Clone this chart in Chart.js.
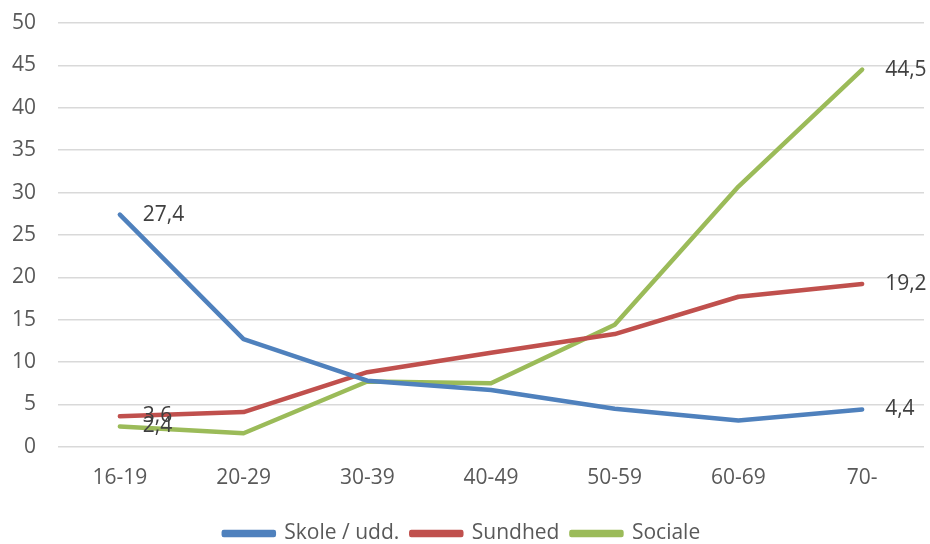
<!DOCTYPE html>
<html>
<head>
<meta charset="utf-8">
<script src="https://cdn.jsdelivr.net/npm/chart.js@4.4.1/dist/chart.umd.min.js"></script>
<style>
  html, body { margin: 0; padding: 0; background: #fff; }
  #wrap { width: 930px; height: 544px; }
</style>
</head>
<body>
<div id="wrap"><canvas id="line-chart"></canvas></div>
<script>
var ageGroups = ['16-19', '20-29', '30-39', '40-49', '50-59', '60-69', '70-'];
var skole = [27.4, 12.7, 7.8, 6.7, 4.5, 3.1, 4.4];
var sundhed = [3.6, 4.1, 8.8, 11.1, 13.3, 17.7, 19.2];
var sociale = [2.4, 1.6, 7.7, 7.5, 14.4, 30.7, 44.5];
var yTicks = [0, 5, 10, 15, 20, 25, 30, 35, 40, 45, 50];

var fontFamily = '"Open Sans", "Liberation Sans", sans-serif';

// data labels at first and last point
var endLabels = {
    id: 'endLabels',
    afterDatasetsDraw: function (chart) {
        var ctx = chart.ctx;
        ctx.save();
        ctx.font = '21px ' + fontFamily;
        ctx.fillStyle = '#404040';
        ctx.textBaseline = 'middle';
        ctx.textAlign = 'left';
        chart.data.datasets.forEach(function (ds, i) {
            var meta = chart.getDatasetMeta(i);
            [0, ds.data.length - 1].forEach(function (idx) {
                var p = meta.data[idx];
                var txt = ds.data[idx].toFixed(1).replace('.', ',');
                ctx.fillText(txt, p.x + 23, p.y);
            });
        });
        ctx.restore();
    }
};

var chart = document.getElementById('line-chart');

let lineChart = new Chart(chart, {
    type: 'line',
    data: {
        labels: ageGroups,
        datasets: [{
            label: 'Skole / udd.',
            data: skole,
            borderColor: '#4F81BD',
            backgroundColor: '#4F81BD',
            borderWidth: 4.5,
            pointRadius: 0,
            tension: 0,
            borderCapStyle: 'round',
            borderJoinStyle: 'round'
        }, {
            label: 'Sundhed',
            data: sundhed,
            borderColor: '#C0504D',
            backgroundColor: '#C0504D',
            borderWidth: 4.5,
            pointRadius: 0,
            tension: 0,
            borderCapStyle: 'round',
            borderJoinStyle: 'round'
        }, {
            label: 'Sociale',
            data: sociale,
            borderColor: '#9BBB59',
            backgroundColor: '#9BBB59',
            borderWidth: 4.5,
            pointRadius: 0,
            tension: 0,
            borderCapStyle: 'round',
            borderJoinStyle: 'round'
        }]
    },
    plugins: [endLabels],
    options: {
        responsive: true,
        maintainAspectRatio: false,
        animation: false,
        layout: {
            padding: { top: 23, right: 6, left: 0, bottom: -10 }
        },
        plugins: {
            tooltip: { enabled: false },
            legend: {
                position: 'bottom',
                labels: {
                    boxWidth: 50,
                    boxHeight: 3,
                    padding: 12,
                    color: '#595959',
                    font: { family: fontFamily, size: 21 }
                }
            }
        },
        scales: {
            x: {
                offset: true,
                afterFit: function (axis) { axis.height += 1; },
                grid: { display: false, drawTicks: false },
                border: { display: false },
                ticks: {
                    color: '#595959',
                    padding: 19,
                    font: { family: fontFamily, size: 21 }
                }
            },
            y: {
                min: 0,
                max: 50,
                afterBuildTicks: function (axis) {
                    axis.ticks = yTicks.map(function (v) { return { value: v }; });
                },
                afterFit: function (axis) {
                    axis.width = 58;
                    axis.paddingTop = 0;
                    axis.paddingBottom = 0;
                },
                grid: { color: '#D9D9D9', lineWidth: 1.5, drawTicks: false },
                border: { display: false },
                ticks: {
                    color: '#595959',
                    padding: 22,
                    font: { family: fontFamily, size: 21 }
                }
            }
        }
    }
});
</script>
</body>
</html>
